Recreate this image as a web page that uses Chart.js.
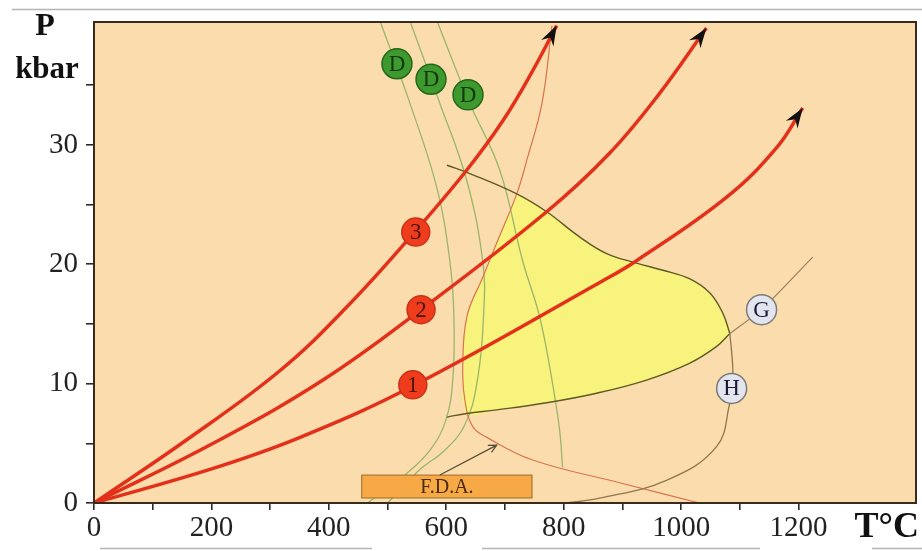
<!DOCTYPE html>
<html>
<head>
<meta charset="utf-8">
<script src="https://cdn.jsdelivr.net/npm/chart.js@4.4.1/dist/chart.umd.min.js"></script>
<style>
  html, body { margin: 0; padding: 0; background: #fff; }
  canvas { display: block; }
</style>
</head>
<body>
<canvas id="chart" width="922" height="551"></canvas>
<script>
// Geotherms 1-3 (T in °C, P in kbar)
const geo1T = [0, 203, 351, 543, 866, 924, 1077, 1163, 1207];
const geo1P = [0, 2.9, 5.5, 9.8, 18.6, 20.3, 25.6, 29.8, 33.1];
const geo2T = [0, 203, 390, 557, 771, 878, 963, 1043];
const geo2P = [0, 5.0, 10.3, 16.2, 24.4, 29.3, 34.3, 39.8];
const geo3T = [0, 158, 317, 430, 546, 635, 696, 747, 788];
const geo3P = [0, 5.3, 11.1, 16.4, 22.7, 27.9, 32.0, 36.2, 40.0];

// D curves (green)
const dAT = [487, 538, 584, 606, 613, 611, 599, 572, 533, 466];
const dAP = [40.4, 33.5, 26.4, 20.3, 15.6, 10.3, 6.9, 4.4, 2.5, 0];
const dBT = [538, 589, 635, 662, 664, 652, 631, 597, 555, 500];
const dBP = [40.4, 33.5, 27.0, 20.3, 16.2, 10.0, 6.5, 4.4, 2.8, 0];
const dCT = [584, 640, 691, 730, 759, 780, 793, 798];
const dCP = [40.4, 33.5, 27.9, 20.3, 15.6, 10.3, 6.1, 3.0];

// thin red curve (left edge of yellow field, down to 0 kbar)
const redThinT = [780, 763, 737, 720, 686, 662, 635, 628, 632, 645, 669, 747, 895, 1031];
const redThinP = [40.0, 33.5, 28.7, 25.9, 21.8, 18.9, 15.6, 11.2, 8.5, 6.4, 5.5, 3.6, 1.7, 0];

// dark olive boundary, upper and lower branch
const oliveUpT = [601, 640, 720, 771, 827, 873, 924, 969, 1014, 1049, 1071, 1083];
const oliveUpP = [28.3, 27.6, 25.9, 24.4, 22.3, 20.9, 20.1, 19.5, 18.8, 17.6, 15.9, 14.2];
const oliveLoT = [1083, 1060, 1014, 941, 856, 771, 686, 635, 601];
const oliveLoP = [14.2, 13.1, 11.7, 10.3, 9.2, 8.4, 7.8, 7.5, 7.2];

// G and H curves
const gLineT = [1083, 1137, 1224];
const gLineP = [14.2, 16.2, 20.6];
const hLineT = [1083, 1088, 1086, 1083, 1060, 975, 861, 805];
const hLineP = [14.2, 11.2, 9.6, 8.4, 4.7, 1.9, 0.4, 0];

// circle marks
const redMarkT = [543, 557, 548];
const redMarkP = [9.9, 16.2, 22.7];
const redMarkText = ['1', '2', '3'];
const dMarkT = [516, 574, 637];
const dMarkP = [36.8, 35.5, 34.2];
const dMarkText = ['D', 'D', 'D'];
const ghMarkT = [1137, 1086];
const ghMarkP = [16.2, 9.6];
const ghMarkText = ['G', 'H'];

// F.D.A. box and its arrow (data units)
const fdaT = [456, 746];
const fdaP = [0.42, 2.34];
const fdaArrowT = [589, 686];
const fdaArrowP = [2.34, 4.85];

const xTicksShown = [0, 200, 400, 600, 800, 1000, 1200];
const yTicksShown = [0, 10, 20, 30];

const SERIF = "'Liberation Serif', 'DejaVu Serif', serif";
const pts = (ts, ps) => ts.map((t, i) => ({ x: t, y: ps[i] }));

// yellow field: upper boundary from the red curve, lower boundary, then red curve back up
const yellowPts = pts(oliveUpT, oliveUpP).slice(2)
    .concat(pts(oliveLoT, oliveLoP).slice(1, -1))
    .concat(pts(redThinT, redThinP).slice(4, 8).reverse());

const lineDs = (label, data, color, width, order, tension) => ({
    label, data, showLine: true, borderColor: color, borderWidth: width,
    pointRadius: 0, fill: false, tension: tension === undefined ? 0.4 : tension, order
});

const markDs = (label, data, fillCol, borderCol, r, text, textCol) => ({
    label, data, showLine: false, pointRadius: r, pointHoverRadius: r,
    pointBackgroundColor: fillCol, pointBorderColor: borderCol, pointBorderWidth: 1.5,
    order: 0, marks: text, markColor: textCol
});

function arrowHead(ctx, x1, y1, x2, y2, len, wid) {
    const a = Math.atan2(y2 - y1, x2 - x1);
    ctx.save();
    ctx.translate(x2, y2);
    ctx.rotate(a);
    ctx.beginPath();
    ctx.moveTo(0, 0);
    ctx.lineTo(-len, -wid / 2);
    ctx.lineTo(-len * 0.68, 0);
    ctx.lineTo(-len, wid / 2);
    ctx.closePath();
    ctx.fill();
    ctx.restore();
}

const decor = {
    id: 'decor',
    beforeDraw(chart) {
        const { ctx, chartArea: a } = chart;
        ctx.save();
        ctx.fillStyle = '#ffffff';
        ctx.fillRect(0, 0, chart.width, chart.height);
        ctx.fillStyle = '#fbddad';
        ctx.fillRect(a.left, a.top, a.right - a.left, a.bottom - a.top);
        // frame lines of the page
        ctx.strokeStyle = '#b5b5b5';
        ctx.lineWidth = 1.5;
        ctx.beginPath();
        ctx.moveTo(12, 9.5); ctx.lineTo(922, 9.5);
        ctx.moveTo(100, 548.5); ctx.lineTo(372, 548.5);
        ctx.moveTo(482, 548.5); ctx.lineTo(760, 548.5);
        ctx.moveTo(872, 548.5); ctx.lineTo(922, 548.5);
        ctx.stroke();
        ctx.restore();
    },
    afterDatasetsDraw(chart) {
        const { ctx, chartArea: a, scales: { x, y } } = chart;
        ctx.save();
        // arrow heads on the geotherms
        ctx.fillStyle = '#111';
        [[geo1T, geo1P], [geo2T, geo2P], [geo3T, geo3P]].forEach(([ts, ps]) => {
            const n = ts.length;
            arrowHead(ctx, x.getPixelForValue(ts[n - 2]), y.getPixelForValue(ps[n - 2]),
                x.getPixelForValue(ts[n - 1]), y.getPixelForValue(ps[n - 1]), 20, 14);
        });
        // letters inside the circles
        chart.data.datasets.forEach((ds, i) => {
            if (!ds.marks) return;
            const meta = chart.getDatasetMeta(i);
            ctx.fillStyle = ds.markColor;
            ctx.font = '23px ' + SERIF;
            ctx.textAlign = 'center';
            ctx.textBaseline = 'middle';
            meta.data.forEach((p, j) => ctx.fillText(ds.marks[j], p.x, p.y + 1));
        });
        // F.D.A. box
        const bx0 = x.getPixelForValue(fdaT[0]), bx1 = x.getPixelForValue(fdaT[1]);
        const by0 = y.getPixelForValue(fdaP[1]), by1 = y.getPixelForValue(fdaP[0]);
        ctx.fillStyle = '#f6a945';
        ctx.fillRect(bx0, by0, bx1 - bx0, by1 - by0);
        ctx.strokeStyle = '#9b6a2c';
        ctx.lineWidth = 1;
        ctx.strokeRect(bx0, by0, bx1 - bx0, by1 - by0);
        ctx.fillStyle = '#4a2a10';
        ctx.font = '20px ' + SERIF;
        ctx.textAlign = 'center';
        ctx.textBaseline = 'middle';
        ctx.fillText('F.D.A.', (bx0 + bx1) / 2, (by0 + by1) / 2 + 1);
        // its arrow
        const ax0 = x.getPixelForValue(fdaArrowT[0]), ay0 = y.getPixelForValue(fdaArrowP[0]);
        const ax1 = x.getPixelForValue(fdaArrowT[1]), ay1 = y.getPixelForValue(fdaArrowP[1]);
        const ang = Math.atan2(ay1 - ay0, ax1 - ax0);
        ctx.strokeStyle = '#5a4a3a';
        ctx.lineWidth = 1.2;
        ctx.beginPath();
        ctx.moveTo(ax0, ay0); ctx.lineTo(ax1, ay1);
        ctx.moveTo(ax1 - 9 * Math.cos(ang - 0.45), ay1 - 9 * Math.sin(ang - 0.45));
        ctx.lineTo(ax1, ay1);
        ctx.lineTo(ax1 - 9 * Math.cos(ang + 0.45), ay1 - 9 * Math.sin(ang + 0.45));
        ctx.stroke();
        // plot frame
        ctx.strokeStyle = '#3a2a1c';
        ctx.lineWidth = 2;
        ctx.strokeRect(a.left, a.top, a.right - a.left, a.bottom - a.top);
        // axis titles
        ctx.fillStyle = '#111';
        ctx.textBaseline = 'alphabetic';
        ctx.textAlign = 'center';
        ctx.font = 'bold 32px ' + SERIF;
        ctx.fillText('P', 45, 35);
        ctx.font = 'bold 31px ' + SERIF;
        ctx.fillText('kbar', 47, 78);
        ctx.font = 'bold 36px ' + SERIF;
        ctx.textAlign = 'right';
        ctx.fillText('T°C', 919, 537);
        ctx.restore();
    }
};

new Chart(document.getElementById('chart'), {
    type: 'scatter',
    data: {
        datasets: [
            markDs('geotherm labels', pts(redMarkT, redMarkP), '#ef3c1d', '#c8321a', 14, redMarkText, '#4a160a'),
            markDs('D labels', pts(dMarkT, dMarkP), '#3e9a2e', '#24661a', 15, dMarkText, '#123a0c'),
            markDs('G H labels', pts(ghMarkT, ghMarkP), '#e2e4ee', '#7a7a7a', 15, ghMarkText, '#1a1a36'),
            lineDs('geotherm 1', pts(geo1T, geo1P), '#e3301a', 3.5, 2),
            lineDs('geotherm 2', pts(geo2T, geo2P), '#e3301a', 3.5, 2),
            lineDs('geotherm 3', pts(geo3T, geo3P), '#e3301a', 3.5, 2),
            lineDs('G', pts(gLineT, gLineP), '#9a8560', 1.3, 5, 0.2),
            lineDs('H', pts(hLineT, hLineP), '#8f7650', 1.3, 5),
            lineDs('olive upper', pts(oliveUpT, oliveUpP), '#5e5a22', 1.4, 5),
            lineDs('olive lower', pts(oliveLoT, oliveLoP), '#5e5a22', 1.4, 5),
            lineDs('red thin', pts(redThinT, redThinP), '#d9744f', 1.2, 6),
            lineDs('D a', pts(dAT, dAP), '#9bb56a', 1.3, 7),
            lineDs('D b', pts(dBT, dBP), '#9bb56a', 1.3, 7),
            lineDs('D c', pts(dCT, dCP), '#9bb56a', 1.3, 7),
            {
                label: 'melt field', data: yellowPts, showLine: true, pointRadius: 0,
                borderWidth: 0, borderColor: 'rgba(0,0,0,0)', backgroundColor: '#f8f37c',
                fill: 'shape', tension: 0.3, order: 10
            }
        ]
    },
    options: {
        responsive: false,
        devicePixelRatio: 1,
        animation: false,
        layout: { autoPadding: false, padding: { top: 22, right: 6, left: 0, bottom: 0 } },
        plugins: { legend: { display: false }, tooltip: { enabled: false } },
        scales: {
            x: {
                type: 'linear', position: 'bottom', min: 0, max: 1400,
                afterFit: s => { s.height = 48; s.paddingLeft = 0; s.paddingRight = 0; },
                afterBuildTicks: s => { s.ticks = s.ticks.filter(t => t.value <= 1200); },
                ticks: {
                    stepSize: 100, autoSkip: false, maxRotation: 0, padding: 1,
                    color: '#222', font: { family: SERIF, size: 29 },
                    callback: v => xTicksShown.includes(v) ? String(v) : ''
                },
                grid: { drawOnChartArea: false, tickLength: 7, color: '#2a2a2a', lineWidth: 1.6 },
                border: { display: false }
            },
            y: {
                type: 'linear', min: 0, max: 40.3,
                afterFit: s => { s.width = 94; s.paddingTop = 0; s.paddingBottom = 0; },
                afterBuildTicks: s => { s.ticks = s.ticks.filter(t => t.value <= 35); },
                ticks: {
                    stepSize: 5, autoSkip: false, padding: 8,
                    color: '#222', font: { family: SERIF, size: 29 },
                    callback: v => yTicksShown.includes(v) ? String(v) : ''
                },
                grid: { drawOnChartArea: false, tickLength: 8, color: '#2a2a2a', lineWidth: 1.6 },
                border: { display: false }
            }
        }
    },
    plugins: [decor]
});
</script>
</body>
</html>
